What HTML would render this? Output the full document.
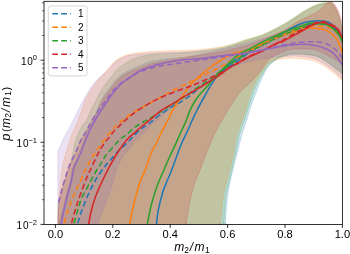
<!DOCTYPE html>
<html><head><meta charset="utf-8"><style>
html,body{margin:0;padding:0;background:#fff;width:350px;height:254px;overflow:hidden}
svg{display:block;will-change:transform}
text{font-family:'Liberation Sans',sans-serif;fill:#000}
</style></head><body>
<svg width="350" height="254" viewBox="0 0 350 254">
<defs><clipPath id="ax"><rect x="44.0" y="1.3" width="298.4" height="223.1"/></clipPath></defs>
<rect x="0" y="0" width="350" height="254" fill="#fff"/>
<g clip-path="url(#ax)">
<path d="M57.90,400.00 L57.90,228.00 C58.20,226.83 58.90,224.17 59.70,221.00 C60.50,217.83 61.65,213.17 62.70,209.00 C63.75,204.83 64.78,200.67 66.00,196.00 C67.22,191.33 68.95,185.50 70.00,181.00 C71.05,176.50 71.43,172.17 72.30,169.00 C73.17,165.83 74.08,164.67 75.20,162.00 C76.32,159.33 77.78,156.00 79.00,153.00 C80.22,150.00 81.28,147.33 82.50,144.00 C83.72,140.67 85.10,136.00 86.30,133.00 C87.50,130.00 88.62,128.25 89.70,126.00 C90.78,123.75 91.75,121.75 92.80,119.50 C93.85,117.25 94.97,114.83 96.00,112.50 C97.03,110.17 97.97,107.83 99.00,105.50 C100.03,103.17 100.62,101.17 102.20,98.50 C103.78,95.83 106.20,92.67 108.50,89.50 C110.80,86.33 113.25,82.37 116.00,79.50 C118.75,76.63 121.83,74.30 125.00,72.30 C128.17,70.30 132.00,68.80 135.00,67.50 C138.00,66.20 140.50,65.50 143.00,64.50 C145.50,63.50 146.50,62.38 150.00,61.50 C153.50,60.62 159.00,59.83 164.00,59.20 C169.00,58.57 174.83,58.33 180.00,57.70 C185.17,57.07 187.67,56.95 195.00,55.40 C202.33,53.85 215.67,50.73 224.00,48.40 C232.33,46.07 238.33,43.60 245.00,41.40 C251.67,39.20 257.50,37.93 264.00,35.20 C270.50,32.47 278.67,27.95 284.00,25.00 C289.33,22.05 293.02,19.43 296.00,17.50 C298.98,15.57 299.93,14.65 301.90,13.40 C303.87,12.15 305.83,11.07 307.80,10.00 C309.77,8.93 311.73,7.87 313.70,7.00 C315.67,6.13 317.63,5.38 319.60,4.80 C321.57,4.22 323.80,3.80 325.50,3.50 C327.20,3.20 328.75,3.05 329.80,3.00 C330.85,2.95 331.07,2.77 331.80,3.20 C332.53,3.63 333.47,4.63 334.20,5.60 C334.93,6.57 335.53,7.68 336.20,9.00 C336.87,10.32 337.60,11.92 338.20,13.50 C338.80,15.08 339.33,16.75 339.80,18.50 C340.27,20.25 340.57,22.08 341.00,24.00 C341.43,25.92 342.17,29.00 342.40,30.00 L342.40,74.00 C342.12,73.72 341.77,73.22 340.70,72.30 C339.63,71.38 337.58,69.72 336.00,68.50 C334.42,67.28 333.03,66.33 331.20,65.00 C329.37,63.67 326.97,61.80 325.00,60.50 C323.03,59.20 321.23,58.03 319.40,57.20 C317.57,56.37 315.97,55.95 314.00,55.50 C312.03,55.05 309.93,54.75 307.60,54.50 C305.27,54.25 302.93,54.05 300.00,54.00 C297.07,53.95 293.00,53.78 290.00,54.20 C287.00,54.62 284.50,55.45 282.00,56.50 C279.50,57.55 277.25,58.92 275.00,60.50 C272.75,62.08 270.33,63.75 268.50,66.00 C266.67,68.25 265.50,71.00 264.00,74.00 C262.50,77.00 260.92,80.67 259.50,84.00 C258.08,87.33 256.92,90.33 255.50,94.00 C254.08,97.67 252.45,101.67 251.00,106.00 C249.55,110.33 248.33,115.17 246.80,120.00 C245.27,124.83 243.27,130.00 241.80,135.00 C240.33,140.00 239.30,145.00 238.00,150.00 C236.70,155.00 235.25,160.00 234.00,165.00 C232.75,170.00 231.55,175.00 230.50,180.00 C229.45,185.00 228.40,190.00 227.70,195.00 C227.00,200.00 226.68,205.10 226.30,210.00 C225.92,214.90 225.58,219.40 225.40,224.40 C225.22,229.40 225.27,210.73 225.20,240.00 C225.13,269.27 225.03,373.33 225.00,400.00 L57.90,400.00 Z" fill="#1f77b4" fill-opacity="0.2" stroke="#1f77b4" stroke-opacity="0.2" stroke-width="1"/>
<path d="M57.90,400.00 L57.90,205.00 C58.25,203.50 59.23,198.83 60.00,196.00 C60.77,193.17 61.60,191.00 62.50,188.00 C63.40,185.00 64.43,181.00 65.40,178.00 C66.37,175.00 67.37,172.83 68.30,170.00 C69.23,167.17 70.17,164.17 71.00,161.00 C71.83,157.83 72.55,154.33 73.30,151.00 C74.05,147.67 74.63,144.00 75.50,141.00 C76.37,138.00 77.42,135.50 78.50,133.00 C79.58,130.50 80.60,128.25 82.00,126.00 C83.40,123.75 85.57,121.83 86.90,119.50 C88.23,117.17 88.90,114.42 90.00,112.00 C91.10,109.58 92.25,107.42 93.50,105.00 C94.75,102.58 96.17,100.00 97.50,97.50 C98.83,95.00 100.25,92.12 101.50,90.00 C102.75,87.88 103.55,86.80 105.00,84.80 C106.45,82.80 108.03,80.67 110.20,78.00 C112.37,75.33 115.53,71.22 118.00,68.80 C120.47,66.38 123.00,64.88 125.00,63.50 C127.00,62.12 127.88,61.50 130.00,60.50 C132.12,59.50 134.37,58.47 137.70,57.50 C141.03,56.53 145.62,55.33 150.00,54.70 C154.38,54.07 156.50,54.20 164.00,53.70 C171.50,53.20 185.00,52.83 195.00,51.70 C205.00,50.57 215.67,48.87 224.00,46.90 C232.33,44.93 238.33,42.05 245.00,39.90 C251.67,37.75 257.50,36.68 264.00,34.00 C270.50,31.32 278.67,26.75 284.00,23.80 C289.33,20.85 293.02,18.23 296.00,16.30 C298.98,14.37 299.93,13.47 301.90,12.20 C303.87,10.93 305.83,9.78 307.80,8.70 C309.77,7.62 311.73,6.57 313.70,5.70 C315.67,4.83 317.63,4.05 319.60,3.50 C321.57,2.95 323.73,2.55 325.50,2.40 C327.27,2.25 328.95,2.25 330.20,2.60 C331.45,2.95 332.03,3.35 333.00,4.50 C333.97,5.65 335.00,7.25 336.00,9.50 C337.00,11.75 337.93,14.58 339.00,18.00 C340.07,21.42 341.83,28.00 342.40,30.00 L342.40,74.30 C342.12,74.02 341.77,73.52 340.70,72.60 C339.63,71.68 337.58,70.02 336.00,68.80 C334.42,67.58 333.03,66.63 331.20,65.30 C329.37,63.97 326.97,62.10 325.00,60.80 C323.03,59.50 321.23,58.33 319.40,57.50 C317.57,56.67 315.97,56.25 314.00,55.80 C312.03,55.35 309.93,55.05 307.60,54.80 C305.27,54.55 302.93,54.35 300.00,54.30 C297.07,54.25 293.67,53.80 290.00,54.50 C286.33,55.20 281.33,56.92 278.00,58.50 C274.67,60.08 272.50,61.58 270.00,64.00 C267.50,66.42 265.00,70.00 263.00,73.00 C261.00,76.00 259.58,78.67 258.00,82.00 C256.42,85.33 255.00,89.00 253.50,93.00 C252.00,97.00 250.50,101.50 249.00,106.00 C247.50,110.50 246.08,115.17 244.50,120.00 C242.92,124.83 240.83,130.00 239.50,135.00 C238.17,140.00 237.58,145.00 236.50,150.00 C235.42,155.00 234.17,160.00 233.00,165.00 C231.83,170.00 230.63,175.00 229.50,180.00 C228.37,185.00 226.98,190.00 226.20,195.00 C225.42,200.00 225.18,205.10 224.80,210.00 C224.42,214.90 224.10,219.40 223.90,224.40 C223.70,229.40 223.70,210.73 223.60,240.00 C223.50,269.27 223.35,373.33 223.30,400.00 L57.90,400.00 Z" fill="#2ca02c" fill-opacity="0.2" stroke="#2ca02c" stroke-opacity="0.2" stroke-width="1"/>
<path d="M57.90,400.00 L57.90,228.00 C57.97,225.33 58.13,216.67 58.30,212.00 C58.47,207.33 58.67,203.67 58.90,200.00 C59.13,196.33 59.37,193.83 59.70,190.00 C60.03,186.17 60.43,181.00 60.90,177.00 C61.37,173.00 61.82,169.50 62.50,166.00 C63.18,162.50 64.08,159.33 65.00,156.00 C65.92,152.67 66.95,149.33 68.00,146.00 C69.05,142.67 70.12,139.17 71.30,136.00 C72.48,132.83 73.85,130.00 75.10,127.00 C76.35,124.00 77.73,120.67 78.80,118.00 C79.87,115.33 80.40,114.00 81.50,111.00 C82.60,108.00 83.88,103.42 85.40,100.00 C86.92,96.58 88.57,93.70 90.60,90.50 C92.63,87.30 95.37,83.62 97.60,80.80 C99.83,77.98 102.28,75.53 104.00,73.60 C105.72,71.67 106.73,70.58 107.90,69.20 C109.07,67.82 109.90,66.58 111.00,65.30 C112.10,64.02 113.17,62.67 114.50,61.50 C115.83,60.33 117.42,59.22 119.00,58.30 C120.58,57.38 122.17,56.68 124.00,56.00 C125.83,55.32 127.33,54.78 130.00,54.20 C132.67,53.62 136.67,52.92 140.00,52.50 C143.33,52.08 146.00,51.97 150.00,51.70 C154.00,51.43 156.50,51.20 164.00,50.90 C171.50,50.60 185.00,50.65 195.00,49.90 C205.00,49.15 215.67,47.98 224.00,46.40 C232.33,44.82 238.33,42.35 245.00,40.40 C251.67,38.45 257.50,37.33 264.00,34.70 C270.50,32.07 278.67,27.52 284.00,24.60 C289.33,21.68 293.02,19.12 296.00,17.20 C298.98,15.28 299.93,14.37 301.90,13.10 C303.87,11.83 305.83,10.68 307.80,9.60 C309.77,8.52 311.73,7.47 313.70,6.60 C315.67,5.73 317.63,4.97 319.60,4.40 C321.57,3.83 323.80,3.50 325.50,3.20 C327.20,2.90 328.75,2.63 329.80,2.60 C330.85,2.57 331.07,2.52 331.80,3.00 C332.53,3.48 333.47,4.50 334.20,5.50 C334.93,6.50 335.53,7.67 336.20,9.00 C336.87,10.33 337.60,11.92 338.20,13.50 C338.80,15.08 339.33,16.75 339.80,18.50 C340.27,20.25 340.57,22.08 341.00,24.00 C341.43,25.92 342.17,29.00 342.40,30.00 L342.40,81.50 C342.12,81.17 341.77,80.58 340.70,79.50 C339.63,78.42 337.58,76.42 336.00,75.00 C334.42,73.58 333.03,72.42 331.20,71.00 C329.37,69.58 326.97,67.78 325.00,66.50 C323.03,65.22 321.23,64.22 319.40,63.30 C317.57,62.38 315.97,61.63 314.00,61.00 C312.03,60.37 310.63,59.93 307.60,59.50 C304.57,59.07 299.57,58.55 295.80,58.40 C292.03,58.25 288.47,58.33 285.00,58.60 C281.53,58.87 277.83,59.10 275.00,60.00 C272.17,60.90 270.17,62.08 268.00,64.00 C265.83,65.92 264.00,68.67 262.00,71.50 C260.00,74.33 257.83,77.58 256.00,81.00 C254.17,84.42 252.50,88.00 251.00,92.00 C249.50,96.00 248.45,100.33 247.00,105.00 C245.55,109.67 244.00,115.00 242.30,120.00 C240.60,125.00 238.18,130.00 236.80,135.00 C235.42,140.00 234.97,145.00 234.00,150.00 C233.03,155.00 232.17,160.00 231.00,165.00 C229.83,170.00 228.28,175.00 227.00,180.00 C225.72,185.00 224.18,190.00 223.30,195.00 C222.42,200.00 222.20,205.10 221.70,210.00 C221.20,214.90 220.62,219.40 220.30,224.40 C219.98,229.40 219.97,210.73 219.80,240.00 C219.63,269.27 219.38,373.33 219.30,400.00 L57.90,400.00 Z" fill="#ff7f0e" fill-opacity="0.2" stroke="#ff7f0e" stroke-opacity="0.2" stroke-width="1"/>
<path d="M57.90,400.00 L57.90,230.00 C57.95,227.50 58.02,219.17 58.20,215.00 C58.38,210.83 58.67,207.83 59.00,205.00 C59.33,202.17 59.60,200.58 60.20,198.00 C60.80,195.42 61.55,193.27 62.60,189.50 C63.65,185.73 65.27,179.32 66.50,175.40 C67.73,171.48 68.92,168.90 70.00,166.00 C71.08,163.10 71.92,160.37 73.00,158.00 C74.08,155.63 75.13,154.80 76.50,151.80 C77.87,148.80 79.57,143.38 81.20,140.00 C82.83,136.62 84.83,134.08 86.30,131.50 C87.77,128.92 88.78,126.58 90.00,124.50 C91.22,122.42 92.52,120.83 93.60,119.00 C94.68,117.17 95.52,115.58 96.50,113.50 C97.48,111.42 98.45,108.83 99.50,106.50 C100.55,104.17 101.22,102.08 102.80,99.50 C104.38,96.92 106.75,94.00 109.00,91.00 C111.25,88.00 113.63,84.28 116.30,81.50 C118.97,78.72 121.88,76.25 125.00,74.30 C128.12,72.35 132.00,71.03 135.00,69.80 C138.00,68.57 140.50,67.87 143.00,66.90 C145.50,65.93 146.50,64.98 150.00,64.00 C153.50,63.02 159.00,61.92 164.00,61.00 C169.00,60.08 174.83,59.33 180.00,58.50 C185.17,57.67 187.67,57.25 195.00,56.00 C202.33,54.75 214.17,53.17 224.00,51.00 C233.83,48.83 244.00,46.50 254.00,43.00 C264.00,39.50 277.00,33.40 284.00,30.00 C291.00,26.60 292.82,24.42 296.00,22.60 C299.18,20.78 300.73,20.28 303.10,19.10 C305.47,17.92 308.03,16.58 310.20,15.50 C312.37,14.42 314.13,13.87 316.10,12.60 C318.07,11.33 320.35,9.33 322.00,7.90 C323.65,6.47 324.75,5.02 326.00,4.00 C327.25,2.98 328.53,2.13 329.50,1.80 C330.47,1.47 331.05,1.70 331.80,2.00 C332.55,2.30 333.22,2.80 334.00,3.60 C334.78,4.40 335.75,5.57 336.50,6.80 C337.25,8.03 337.88,9.47 338.50,11.00 C339.12,12.53 339.68,14.50 340.20,16.00 C340.72,17.50 341.23,18.83 341.60,20.00 C341.97,21.17 342.27,22.50 342.40,23.00 L342.40,64.50 C342.12,64.28 341.77,63.90 340.70,63.20 C339.63,62.50 337.58,61.28 336.00,60.30 C334.42,59.32 333.03,58.35 331.20,57.30 C329.37,56.25 326.97,55.02 325.00,54.00 C323.03,52.98 321.23,51.95 319.40,51.20 C317.57,50.45 315.97,49.88 314.00,49.50 C312.03,49.12 309.93,48.97 307.60,48.90 C305.27,48.83 302.93,48.98 300.00,49.10 C297.07,49.22 294.17,48.53 290.00,49.60 C285.83,50.67 278.58,53.77 275.00,55.50 C271.42,57.23 270.20,58.47 268.50,60.00 C266.80,61.53 266.20,62.80 264.80,64.70 C263.40,66.60 262.00,68.95 260.10,71.40 C258.20,73.85 255.63,77.00 253.40,79.40 C251.17,81.80 248.93,83.63 246.70,85.80 C244.47,87.97 241.55,90.77 240.00,92.40 C238.45,94.03 239.23,92.92 237.40,95.60 C235.57,98.28 231.65,104.27 229.00,108.50 C226.35,112.73 223.42,117.75 221.50,121.00 C219.58,124.25 218.87,125.35 217.50,128.00 C216.13,130.65 215.23,132.53 213.30,136.90 C211.37,141.27 208.20,148.45 205.90,154.20 C203.60,159.95 201.40,166.48 199.50,171.40 C197.60,176.32 195.90,179.60 194.50,183.70 C193.10,187.80 192.08,191.88 191.10,196.00 C190.12,200.12 189.42,203.67 188.60,208.40 C187.78,213.13 186.70,219.13 186.20,224.40 C185.70,229.67 186.30,210.73 185.60,240.00 C184.90,269.27 182.60,373.33 182.00,400.00 L57.90,400.00 Z" fill="#d62728" fill-opacity="0.2" stroke="#d62728" stroke-opacity="0.2" stroke-width="1"/>
<path d="M57.90,400.00 L57.90,151.30 C58.50,150.00 60.33,146.05 61.50,143.50 C62.67,140.95 63.57,138.58 64.90,136.00 C66.23,133.42 68.08,130.67 69.50,128.00 C70.92,125.33 71.93,123.00 73.40,120.00 C74.87,117.00 76.62,113.33 78.30,110.00 C79.98,106.67 81.70,103.30 83.50,100.00 C85.30,96.70 87.53,92.75 89.10,90.20 C90.67,87.65 91.62,86.40 92.90,84.70 C94.18,83.00 95.52,81.37 96.80,80.00 C98.08,78.63 99.38,77.53 100.60,76.50 C101.82,75.47 102.85,74.88 104.10,73.80 C105.35,72.72 106.87,71.30 108.10,70.00 C109.33,68.70 110.18,67.42 111.50,66.00 C112.82,64.58 114.33,62.78 116.00,61.50 C117.67,60.22 119.17,59.35 121.50,58.30 C123.83,57.25 125.25,56.05 130.00,55.20 C134.75,54.35 144.33,53.65 150.00,53.20 C155.67,52.75 156.50,52.80 164.00,52.50 C171.50,52.20 185.00,52.08 195.00,51.40 C205.00,50.72 214.17,50.15 224.00,48.40 C233.83,46.65 244.00,43.63 254.00,40.90 C264.00,38.17 276.33,34.48 284.00,32.00 C291.67,29.52 294.33,27.67 300.00,26.00 C305.67,24.33 313.00,22.67 318.00,22.00 C323.00,21.33 326.67,21.17 330.00,22.00 C333.33,22.83 335.93,25.33 338.00,27.00 C340.07,28.67 341.67,31.17 342.40,32.00 L342.40,79.20 C342.12,78.87 341.77,78.28 340.70,77.20 C339.63,76.12 337.58,74.12 336.00,72.70 C334.42,71.28 333.03,70.12 331.20,68.70 C329.37,67.28 326.97,65.48 325.00,64.20 C323.03,62.92 321.23,61.92 319.40,61.00 C317.57,60.08 315.97,59.33 314.00,58.70 C312.03,58.07 310.63,57.63 307.60,57.20 C304.57,56.77 298.73,56.25 295.80,56.10 C292.87,55.95 293.47,56.15 290.00,56.30 C286.53,56.45 279.67,56.55 275.00,57.00 C270.33,57.45 266.88,58.10 262.00,59.00 C257.12,59.90 251.03,60.82 245.70,62.40 C240.37,63.98 235.12,65.82 230.00,68.50 C224.88,71.18 220.00,75.67 215.00,78.50 C210.00,81.33 204.17,83.17 200.00,85.50 C195.83,87.83 193.33,90.08 190.00,92.50 C186.67,94.92 183.33,97.33 180.00,100.00 C176.67,102.67 173.33,105.58 170.00,108.50 C166.67,111.42 163.17,114.67 160.00,117.50 C156.83,120.33 153.33,123.33 151.00,125.50 C148.67,127.67 147.83,128.67 146.00,130.50 C144.17,132.33 141.90,134.65 140.00,136.50 C138.10,138.35 136.28,139.70 134.60,141.60 C132.92,143.50 131.73,145.55 129.90,147.90 C128.07,150.25 125.33,153.27 123.60,155.70 C121.87,158.13 120.60,160.45 119.50,162.50 C118.40,164.55 117.70,166.08 117.00,168.00 C116.30,169.92 115.88,171.83 115.30,174.00 C114.72,176.17 114.22,178.67 113.50,181.00 C112.78,183.33 112.00,185.33 111.00,188.00 C110.00,190.67 108.72,193.67 107.50,197.00 C106.28,200.33 104.78,205.00 103.70,208.00 C102.62,211.00 101.98,212.17 101.00,215.00 C100.02,217.83 98.88,220.83 97.80,225.00 C96.72,229.17 95.47,210.83 94.50,240.00 C93.53,269.17 92.42,373.33 92.00,400.00 L57.90,400.00 Z" fill="#9467bd" fill-opacity="0.2" stroke="#9467bd" stroke-opacity="0.2" stroke-width="1"/>
<path d="M155.80,232.00 C155.90,230.73 155.97,228.13 156.40,224.40 C156.83,220.67 157.33,215.00 158.40,209.60 C159.47,204.20 161.28,196.93 162.80,192.00 C164.32,187.07 166.02,183.67 167.50,180.00 C168.98,176.33 169.53,175.67 171.70,170.00 C173.87,164.33 177.95,152.33 180.50,146.00 C183.05,139.67 185.03,136.33 187.00,132.00 C188.97,127.67 190.62,123.67 192.30,120.00 C193.98,116.33 195.03,114.00 197.10,110.00 C199.17,106.00 202.25,100.38 204.70,96.00 C207.15,91.62 209.63,87.13 211.80,83.70 C213.97,80.27 215.53,77.95 217.70,75.40 C219.87,72.85 221.55,71.25 224.80,68.40 C228.05,65.55 233.00,61.20 237.20,58.30 C241.40,55.40 245.75,53.35 250.00,51.00 C254.25,48.65 258.53,46.43 262.70,44.20 C266.87,41.97 270.22,40.27 275.00,37.60 C279.78,34.93 286.88,30.60 291.40,28.20 C295.92,25.80 298.67,24.35 302.10,23.20 C305.53,22.05 309.35,21.72 312.00,21.30 C314.65,20.88 315.83,20.72 318.00,20.70 C320.17,20.68 323.00,20.78 325.00,21.20 C327.00,21.62 328.38,22.12 330.00,23.20 C331.62,24.28 333.28,26.32 334.70,27.70 C336.12,29.08 337.35,30.05 338.50,31.50 C339.65,32.95 340.85,35.15 341.60,36.40 C342.35,37.65 342.77,38.57 343.00,39.00" fill="none" stroke="#1f77b4" stroke-width="1.55"/>
<path d="M76.50,232.00 C76.67,230.73 76.58,228.07 77.50,224.40 C78.42,220.73 80.18,215.02 82.00,210.00 C83.82,204.98 86.15,199.27 88.40,194.30 C90.65,189.33 92.85,184.72 95.50,180.20 C98.15,175.68 101.88,170.48 104.30,167.20 C106.72,163.92 107.72,163.12 110.00,160.50 C112.28,157.88 115.07,154.50 118.00,151.50 C120.93,148.50 124.77,145.32 127.60,142.50 C130.43,139.68 132.50,137.02 135.00,134.60 C137.50,132.18 139.98,130.05 142.60,128.00 C145.22,125.95 147.80,124.53 150.70,122.30 C153.60,120.07 156.48,117.17 160.00,114.60 C163.52,112.03 168.25,109.07 171.80,106.90 C175.35,104.73 178.27,103.47 181.30,101.60 C184.33,99.73 186.88,98.02 190.00,95.70 C193.12,93.38 196.33,90.40 200.00,87.70 C203.67,85.00 208.00,82.37 212.00,79.50 C216.00,76.63 219.83,73.50 224.00,70.50 C228.17,67.50 232.67,64.62 237.00,61.50 C241.33,58.38 245.83,54.45 250.00,51.80 C254.17,49.15 257.83,47.75 262.00,45.60 C266.17,43.45 270.33,41.10 275.00,38.90 C279.67,36.70 285.17,34.45 290.00,32.40 C294.83,30.35 299.33,28.17 304.00,26.60 C308.67,25.03 314.00,23.43 318.00,23.00 C322.00,22.57 325.17,23.08 328.00,24.00 C330.83,24.92 333.00,26.92 335.00,28.50 C337.00,30.08 338.67,31.92 340.00,33.50 C341.33,35.08 342.50,37.25 343.00,38.00" fill="none" stroke="#1f77b4" stroke-width="1.55" stroke-dasharray="5.7 3.2"/>
<path d="M128.80,232.00 C128.95,230.73 129.23,227.40 129.70,224.40 C130.17,221.40 130.87,217.57 131.60,214.00 C132.33,210.43 132.77,208.13 134.10,203.00 C135.43,197.87 137.75,188.70 139.60,183.20 C141.45,177.70 143.27,175.03 145.20,170.00 C147.13,164.97 149.48,157.17 151.20,153.00 C152.92,148.83 154.12,147.75 155.50,145.00 C156.88,142.25 158.20,139.23 159.50,136.50 C160.80,133.77 161.88,131.35 163.30,128.60 C164.72,125.85 166.68,122.62 168.00,120.00 C169.32,117.38 169.58,115.87 171.20,112.90 C172.82,109.93 175.15,106.00 177.70,102.20 C180.25,98.40 184.05,93.30 186.50,90.10 C188.95,86.90 190.48,85.10 192.40,83.00 C194.32,80.90 196.00,79.32 198.00,77.50 C200.00,75.68 201.95,74.08 204.40,72.10 C206.85,70.12 210.33,67.37 212.70,65.60 C215.07,63.83 216.55,62.83 218.60,61.50 C220.65,60.17 222.60,58.93 225.00,57.60 C227.40,56.27 228.83,54.85 233.00,53.50 C237.17,52.15 243.83,51.67 250.00,49.50 C256.17,47.33 263.33,43.25 270.00,40.50 C276.67,37.75 285.00,34.67 290.00,33.00 C295.00,31.33 296.80,31.38 300.00,30.50 C303.20,29.62 306.20,27.98 309.20,27.70 C312.20,27.42 315.17,28.35 318.00,28.80 C320.83,29.25 323.82,29.45 326.20,30.40 C328.58,31.35 330.60,33.13 332.30,34.50 C334.00,35.87 335.22,37.02 336.40,38.60 C337.58,40.18 338.60,42.18 339.40,44.00 C340.20,45.82 340.67,48.00 341.20,49.50 C341.73,51.00 342.37,52.42 342.60,53.00" fill="none" stroke="#ff7f0e" stroke-width="1.55"/>
<path d="M63.20,232.00 C63.32,230.73 63.10,228.07 63.90,224.40 C64.70,220.73 66.40,214.73 68.00,210.00 C69.60,205.27 71.37,200.97 73.50,196.00 C75.63,191.03 78.62,185.00 80.80,180.20 C82.98,175.40 84.25,171.73 86.60,167.20 C88.95,162.67 92.55,156.70 94.90,153.00 C97.25,149.30 98.55,147.98 100.70,145.00 C102.85,142.02 105.63,137.93 107.80,135.10 C109.97,132.27 111.73,130.07 113.70,128.00 C115.67,125.93 117.55,124.43 119.60,122.70 C121.65,120.97 123.38,119.47 126.00,117.60 C128.62,115.73 132.37,113.33 135.30,111.50 C138.23,109.67 140.80,108.22 143.60,106.60 C146.40,104.98 149.50,103.22 152.10,101.80 C154.70,100.38 156.22,99.73 159.20,98.10 C162.18,96.47 166.23,94.03 170.00,92.00 C173.77,89.97 178.25,87.60 181.80,85.90 C185.35,84.20 188.10,83.32 191.30,81.80 C194.50,80.28 197.63,78.52 201.00,76.80 C204.37,75.08 208.57,73.00 211.50,71.50 C214.43,70.00 216.35,68.98 218.60,67.80 C220.85,66.62 221.93,66.12 225.00,64.40 C228.07,62.68 232.68,59.83 237.00,57.50 C241.32,55.17 246.73,52.52 250.90,50.40 C255.07,48.28 258.23,46.70 262.00,44.80 C265.77,42.90 269.80,40.75 273.50,39.00 C277.20,37.25 280.62,35.78 284.20,34.30 C287.78,32.82 291.23,31.52 295.00,30.10 C298.77,28.68 302.97,26.43 306.80,25.80 C310.63,25.17 314.77,26.05 318.00,26.30 C321.23,26.55 323.82,26.75 326.20,27.30 C328.58,27.85 330.50,28.57 332.30,29.60 C334.10,30.63 335.63,32.10 337.00,33.50 C338.37,34.90 339.50,36.42 340.50,38.00 C341.50,39.58 342.58,42.17 343.00,43.00" fill="none" stroke="#ff7f0e" stroke-width="1.55" stroke-dasharray="5.7 3.2"/>
<path d="M146.80,232.00 C146.90,230.73 146.95,227.57 147.40,224.40 C147.85,221.23 148.77,216.57 149.50,213.00 C150.23,209.43 150.50,207.60 151.80,203.00 C153.10,198.40 155.28,190.90 157.30,185.40 C159.32,179.90 161.87,174.73 163.90,170.00 C165.93,165.27 167.52,161.40 169.50,157.00 C171.48,152.60 173.88,147.77 175.80,143.60 C177.72,139.43 179.23,135.93 181.00,132.00 C182.77,128.07 184.90,123.60 186.40,120.00 C187.90,116.40 188.57,113.57 190.00,110.40 C191.43,107.23 193.33,103.68 195.00,101.00 C196.67,98.32 197.60,97.18 200.00,94.30 C202.40,91.42 206.85,86.65 209.40,83.70 C211.95,80.75 212.93,79.15 215.30,76.60 C217.67,74.05 220.45,71.52 223.60,68.40 C226.75,65.28 231.13,60.55 234.20,57.90 C237.27,55.25 239.37,54.02 242.00,52.50 C244.63,50.98 247.13,50.28 250.00,48.80 C252.87,47.32 256.25,45.15 259.20,43.60 C262.15,42.05 265.07,40.73 267.70,39.50 C270.33,38.27 272.07,37.53 275.00,36.20 C277.93,34.87 281.77,32.90 285.30,31.50 C288.83,30.10 292.62,29.02 296.20,27.80 C299.78,26.58 304.17,24.98 306.80,24.20 C309.43,23.42 310.13,23.18 312.00,23.10 C313.87,23.02 315.30,23.33 318.00,23.70 C320.70,24.07 325.47,24.27 328.20,25.30 C330.93,26.33 332.68,28.37 334.40,29.90 C336.12,31.43 337.32,32.82 338.50,34.50 C339.68,36.18 340.75,38.58 341.50,40.00 C342.25,41.42 342.75,42.50 343.00,43.00" fill="none" stroke="#2ca02c" stroke-width="1.55"/>
<path d="M73.00,232.00 C73.15,230.73 73.07,228.23 73.90,224.40 C74.73,220.57 76.62,213.57 78.00,209.00 C79.38,204.43 80.37,201.12 82.20,197.00 C84.03,192.88 86.88,188.28 89.00,184.30 C91.12,180.32 92.93,176.55 94.90,173.10 C96.87,169.65 98.95,166.57 100.80,163.60 C102.65,160.63 103.65,158.40 106.00,155.30 C108.35,152.20 112.43,147.78 114.90,145.00 C117.37,142.22 118.95,140.25 120.80,138.60 C122.65,136.95 123.63,137.00 126.00,135.10 C128.37,133.20 132.27,129.30 135.00,127.20 C137.73,125.10 139.90,124.00 142.40,122.50 C144.90,121.00 147.40,119.72 150.00,118.20 C152.60,116.68 155.25,115.08 158.00,113.40 C160.75,111.72 163.50,110.00 166.50,108.10 C169.50,106.20 172.75,104.10 176.00,102.00 C179.25,99.90 182.47,97.88 186.00,95.50 C189.53,93.12 193.20,90.45 197.20,87.70 C201.20,84.95 205.70,82.03 210.00,79.00 C214.30,75.97 218.67,72.58 223.00,69.50 C227.33,66.42 231.50,63.50 236.00,60.50 C240.50,57.50 245.67,54.03 250.00,51.50 C254.33,48.97 257.83,47.45 262.00,45.30 C266.17,43.15 270.33,40.78 275.00,38.60 C279.67,36.42 285.17,34.13 290.00,32.20 C294.83,30.27 299.33,28.40 304.00,27.00 C308.67,25.60 314.00,24.13 318.00,23.80 C322.00,23.47 325.17,24.05 328.00,25.00 C330.83,25.95 333.00,27.83 335.00,29.50 C337.00,31.17 338.67,33.25 340.00,35.00 C341.33,36.75 342.50,39.17 343.00,40.00" fill="none" stroke="#2ca02c" stroke-width="1.55" stroke-dasharray="5.7 3.2"/>
<path d="M87.50,232.00 C87.68,230.73 88.02,227.73 88.60,224.40 C89.18,221.07 90.02,216.15 91.00,212.00 C91.98,207.85 93.00,203.83 94.50,199.50 C96.00,195.17 97.80,190.92 100.00,186.00 C102.20,181.08 105.12,175.00 107.70,170.00 C110.28,165.00 113.28,159.75 115.50,156.00 C117.72,152.25 118.98,150.33 121.00,147.50 C123.02,144.67 125.27,141.53 127.60,139.00 C129.93,136.47 132.45,134.55 135.00,132.30 C137.55,130.05 140.28,127.68 142.90,125.50 C145.52,123.32 147.85,121.57 150.70,119.20 C153.55,116.83 156.88,113.55 160.00,111.30 C163.12,109.05 166.25,107.62 169.40,105.70 C172.55,103.78 175.47,101.87 178.90,99.80 C182.33,97.73 186.48,95.37 190.00,93.30 C193.52,91.23 196.37,89.62 200.00,87.40 C203.63,85.18 208.25,82.27 211.80,80.00 C215.35,77.73 218.27,75.93 221.30,73.80 C224.33,71.67 227.27,68.97 230.00,67.20 C232.73,65.43 234.37,64.98 237.70,63.20 C241.03,61.42 245.87,58.53 250.00,56.50 C254.13,54.47 259.55,52.42 262.50,51.00 C265.45,49.58 264.87,49.50 267.70,48.00 C270.53,46.50 277.12,43.02 279.50,42.00 C281.88,40.98 279.62,43.00 282.00,41.90 C284.38,40.80 290.25,37.35 293.80,35.40 C297.35,33.45 300.27,31.90 303.30,30.20 C306.33,28.50 309.55,26.42 312.00,25.20 C314.45,23.98 315.98,23.32 318.00,22.90 C320.02,22.48 322.05,22.33 324.10,22.70 C326.15,23.07 328.25,24.18 330.30,25.10 C332.35,26.02 334.70,26.67 336.40,28.20 C338.10,29.73 339.40,32.58 340.50,34.30 C341.60,36.02 342.58,37.80 343.00,38.50" fill="none" stroke="#d62728" stroke-width="1.55"/>
<path d="M70.90,232.00 C71.02,230.53 70.83,227.03 71.60,223.20 C72.37,219.37 74.13,213.53 75.50,209.00 C76.87,204.47 77.93,201.20 79.80,196.00 C81.67,190.80 84.87,182.30 86.70,177.80 C88.53,173.30 88.95,172.93 90.80,169.00 C92.65,165.07 95.75,158.20 97.80,154.20 C99.85,150.20 101.23,147.80 103.10,145.00 C104.97,142.20 107.03,139.85 109.00,137.40 C110.97,134.95 112.93,132.47 114.90,130.30 C116.87,128.13 118.95,126.17 120.80,124.40 C122.65,122.63 123.58,121.77 126.00,119.70 C128.42,117.63 132.37,114.15 135.30,112.00 C138.23,109.85 140.80,108.50 143.60,106.80 C146.40,105.10 149.50,103.22 152.10,101.80 C154.70,100.38 156.65,99.50 159.20,98.30 C161.75,97.10 164.03,95.97 167.40,94.60 C170.77,93.23 175.82,91.40 179.40,90.10 C182.98,88.80 186.13,87.82 188.90,86.80 C191.67,85.78 193.42,85.08 196.00,84.00 C198.58,82.92 201.42,81.58 204.40,80.30 C207.38,79.02 210.47,77.93 213.90,76.30 C217.33,74.67 221.15,72.67 225.00,70.50 C228.85,68.33 232.83,65.72 237.00,63.30 C241.17,60.88 245.75,58.13 250.00,56.00 C254.25,53.87 258.33,52.42 262.50,50.50 C266.67,48.58 271.75,46.12 275.00,44.50 C278.25,42.88 278.87,42.60 282.00,40.80 C285.13,39.00 290.25,35.67 293.80,33.70 C297.35,31.73 300.27,30.57 303.30,29.00 C306.33,27.43 309.55,25.47 312.00,24.30 C314.45,23.13 315.98,22.43 318.00,22.00 C320.02,21.57 322.05,21.33 324.10,21.70 C326.15,22.07 328.25,23.27 330.30,24.20 C332.35,25.13 334.70,25.77 336.40,27.30 C338.10,28.83 339.40,31.53 340.50,33.40 C341.60,35.27 342.58,37.65 343.00,38.50" fill="none" stroke="#d62728" stroke-width="1.55" stroke-dasharray="5.7 3.2"/>
<path d="M60.50,232.00 C60.58,230.73 60.42,228.07 61.00,224.40 C61.58,220.73 62.95,214.73 64.00,210.00 C65.05,205.27 66.08,200.78 67.30,196.00 C68.52,191.22 70.22,185.97 71.30,181.30 C72.38,176.63 72.93,171.22 73.80,168.00 C74.67,164.78 75.35,164.50 76.50,162.00 C77.65,159.50 79.37,156.17 80.70,153.00 C82.03,149.83 83.12,146.50 84.50,143.00 C85.88,139.50 87.67,135.00 89.00,132.00 C90.33,129.00 91.33,127.25 92.50,125.00 C93.67,122.75 94.83,120.50 96.00,118.50 C97.17,116.50 98.33,114.83 99.50,113.00 C100.67,111.17 101.83,109.25 103.00,107.50 C104.17,105.75 105.33,104.17 106.50,102.50 C107.67,100.83 108.83,99.17 110.00,97.50 C111.17,95.83 112.22,94.17 113.50,92.50 C114.78,90.83 116.02,89.25 117.70,87.50 C119.38,85.75 121.43,83.75 123.60,82.00 C125.77,80.25 127.97,78.87 130.70,77.00 C133.43,75.13 136.48,72.60 140.00,70.80 C143.52,69.00 147.87,67.50 151.80,66.20 C155.73,64.90 158.90,63.98 163.60,63.00 C168.30,62.02 173.93,61.05 180.00,60.30 C186.07,59.55 193.33,59.22 200.00,58.50 C206.67,57.78 211.67,57.00 220.00,56.00 C228.33,55.00 241.67,53.73 250.00,52.50 C258.33,51.27 263.33,49.85 270.00,48.60 C276.67,47.35 284.17,45.72 290.00,45.00 C295.83,44.28 301.00,44.25 305.00,44.30 C309.00,44.35 310.93,44.73 314.00,45.30 C317.07,45.87 320.45,46.62 323.40,47.70 C326.35,48.78 329.33,50.08 331.70,51.80 C334.07,53.52 336.05,56.13 337.60,58.00 C339.15,59.87 340.10,61.67 341.00,63.00 C341.90,64.33 342.67,65.50 343.00,66.00" fill="none" stroke="#9467bd" stroke-width="1.55"/>
<path d="M58.60,202.60 C59.17,200.33 60.77,193.53 62.00,189.00 C63.23,184.47 64.80,179.23 66.00,175.40 C67.20,171.57 67.53,169.93 69.20,166.00 C70.87,162.07 74.08,156.05 76.00,151.80 C77.92,147.55 79.05,143.80 80.70,140.50 C82.35,137.20 84.38,134.67 85.90,132.00 C87.42,129.33 88.48,126.95 89.80,124.50 C91.12,122.05 92.48,119.47 93.80,117.30 C95.12,115.13 96.38,113.35 97.70,111.50 C99.02,109.65 100.48,107.92 101.70,106.20 C102.92,104.48 103.87,102.82 105.00,101.20 C106.13,99.58 107.17,98.28 108.50,96.50 C109.83,94.72 111.47,92.25 113.00,90.50 C114.53,88.75 115.93,87.53 117.70,86.00 C119.47,84.47 121.43,82.80 123.60,81.30 C125.77,79.80 127.97,78.58 130.70,77.00 C133.43,75.42 136.48,73.32 140.00,71.80 C143.52,70.28 147.87,68.98 151.80,67.90 C155.73,66.82 160.25,65.92 163.60,65.30 C166.95,64.68 169.17,64.58 171.90,64.20 C174.63,63.82 175.32,63.70 180.00,63.00 C184.68,62.30 192.50,61.08 200.00,60.00 C207.50,58.92 216.67,57.80 225.00,56.50 C233.33,55.20 242.50,53.62 250.00,52.20 C257.50,50.78 264.33,49.25 270.00,48.00 C275.67,46.75 279.00,45.65 284.00,44.70 C289.00,43.75 295.00,42.78 300.00,42.30 C305.00,41.82 309.70,41.58 314.00,41.80 C318.30,42.02 322.45,42.52 325.80,43.60 C329.15,44.68 331.83,46.63 334.10,48.30 C336.37,49.97 338.03,51.98 339.40,53.60 C340.77,55.22 341.70,57.02 342.30,58.00 C342.90,58.98 342.88,59.25 343.00,59.50" fill="none" stroke="#9467bd" stroke-width="1.55" stroke-dasharray="5.7 3.2"/>
</g>
<rect x="48.3" y="6" width="38.7" height="69.9" rx="2.5" ry="2.5" fill="#fff" fill-opacity="0.8" stroke="#cccccc" stroke-width="0.8"/>
<line x1="52.3" y1="13.75" x2="70.9" y2="13.75" stroke="#1f77b4" stroke-width="1.55" stroke-dasharray="5.7 3.2"/>
<text x="78" y="17.0" style="font-size:10px">1</text>
<line x1="52.3" y1="27.25" x2="70.9" y2="27.25" stroke="#ff7f0e" stroke-width="1.55" stroke-dasharray="5.7 3.2"/>
<text x="78" y="30.5" style="font-size:10px">2</text>
<line x1="52.3" y1="40.75" x2="70.9" y2="40.75" stroke="#2ca02c" stroke-width="1.55" stroke-dasharray="5.7 3.2"/>
<text x="78" y="44.0" style="font-size:10px">3</text>
<line x1="52.3" y1="54.25" x2="70.9" y2="54.25" stroke="#d62728" stroke-width="1.55" stroke-dasharray="5.7 3.2"/>
<text x="78" y="57.5" style="font-size:10px">4</text>
<line x1="52.3" y1="67.75" x2="70.9" y2="67.75" stroke="#9467bd" stroke-width="1.55" stroke-dasharray="5.7 3.2"/>
<text x="78" y="71.0" style="font-size:10px">5</text>
<rect x="44.0" y="1.3" width="298.40" height="223.10" fill="none" stroke="#000" stroke-width="0.8"/>
<line x1="55.40" y1="224.4" x2="55.40" y2="227.9" stroke="#000" stroke-width="0.8"/>
<line x1="112.80" y1="224.4" x2="112.80" y2="227.9" stroke="#000" stroke-width="0.8"/>
<line x1="170.20" y1="224.4" x2="170.20" y2="227.9" stroke="#000" stroke-width="0.8"/>
<line x1="227.60" y1="224.4" x2="227.60" y2="227.9" stroke="#000" stroke-width="0.8"/>
<line x1="285.00" y1="224.4" x2="285.00" y2="227.9" stroke="#000" stroke-width="0.8"/>
<line x1="342.40" y1="224.4" x2="342.40" y2="227.9" stroke="#000" stroke-width="0.8"/>
<line x1="40.5" y1="60.20" x2="44.0" y2="60.20" stroke="#000" stroke-width="0.8"/>
<line x1="40.5" y1="142.30" x2="44.0" y2="142.30" stroke="#000" stroke-width="0.8"/>
<line x1="40.5" y1="224.40" x2="44.0" y2="224.40" stroke="#000" stroke-width="0.8"/>
<line x1="42.0" y1="199.69" x2="44.0" y2="199.69" stroke="#000" stroke-width="0.6"/>
<line x1="42.0" y1="185.23" x2="44.0" y2="185.23" stroke="#000" stroke-width="0.6"/>
<line x1="42.0" y1="174.97" x2="44.0" y2="174.97" stroke="#000" stroke-width="0.6"/>
<line x1="42.0" y1="167.01" x2="44.0" y2="167.01" stroke="#000" stroke-width="0.6"/>
<line x1="42.0" y1="160.51" x2="44.0" y2="160.51" stroke="#000" stroke-width="0.6"/>
<line x1="42.0" y1="155.02" x2="44.0" y2="155.02" stroke="#000" stroke-width="0.6"/>
<line x1="42.0" y1="150.26" x2="44.0" y2="150.26" stroke="#000" stroke-width="0.6"/>
<line x1="42.0" y1="146.06" x2="44.0" y2="146.06" stroke="#000" stroke-width="0.6"/>
<line x1="42.0" y1="117.59" x2="44.0" y2="117.59" stroke="#000" stroke-width="0.6"/>
<line x1="42.0" y1="103.13" x2="44.0" y2="103.13" stroke="#000" stroke-width="0.6"/>
<line x1="42.0" y1="92.87" x2="44.0" y2="92.87" stroke="#000" stroke-width="0.6"/>
<line x1="42.0" y1="84.91" x2="44.0" y2="84.91" stroke="#000" stroke-width="0.6"/>
<line x1="42.0" y1="78.41" x2="44.0" y2="78.41" stroke="#000" stroke-width="0.6"/>
<line x1="42.0" y1="72.92" x2="44.0" y2="72.92" stroke="#000" stroke-width="0.6"/>
<line x1="42.0" y1="68.16" x2="44.0" y2="68.16" stroke="#000" stroke-width="0.6"/>
<line x1="42.0" y1="63.96" x2="44.0" y2="63.96" stroke="#000" stroke-width="0.6"/>
<line x1="42.0" y1="35.49" x2="44.0" y2="35.49" stroke="#000" stroke-width="0.6"/>
<line x1="42.0" y1="21.03" x2="44.0" y2="21.03" stroke="#000" stroke-width="0.6"/>
<line x1="42.0" y1="10.77" x2="44.0" y2="10.77" stroke="#000" stroke-width="0.6"/>
<line x1="42.0" y1="2.81" x2="44.0" y2="2.81" stroke="#000" stroke-width="0.6"/>
<text x="55.40" y="238.0" text-anchor="middle" style="font-size:10px" textLength="15.5" lengthAdjust="spacingAndGlyphs">0.0</text>
<text x="112.80" y="238.0" text-anchor="middle" style="font-size:10px" textLength="15.5" lengthAdjust="spacingAndGlyphs">0.2</text>
<text x="170.20" y="238.0" text-anchor="middle" style="font-size:10px" textLength="15.5" lengthAdjust="spacingAndGlyphs">0.4</text>
<text x="227.60" y="238.0" text-anchor="middle" style="font-size:10px" textLength="15.5" lengthAdjust="spacingAndGlyphs">0.6</text>
<text x="285.00" y="238.0" text-anchor="middle" style="font-size:10px" textLength="15.5" lengthAdjust="spacingAndGlyphs">0.8</text>
<text x="342.40" y="238.0" text-anchor="middle" style="font-size:10px" textLength="15.5" lengthAdjust="spacingAndGlyphs">1.0</text>
<text x="37" y="64.70" text-anchor="end" style="font-size:10px"><tspan style="letter-spacing:0.8px">1</tspan>0<tspan dy="-4.3" style="font-size:7.5px">0</tspan></text>
<text x="37" y="146.80" text-anchor="end" style="font-size:10px"><tspan style="letter-spacing:0.8px">1</tspan>0<tspan dy="-4.3" style="font-size:7.5px">−1</tspan></text>
<text x="37" y="228.90" text-anchor="end" style="font-size:10px"><tspan style="letter-spacing:0.8px">1</tspan>0<tspan dy="-4.3" style="font-size:7.5px">−2</tspan></text>
<text x="174.3" y="251.2" style="font-size:12px;font-style:italic">m</text>
<text x="184.2" y="253.0" style="font-size:8.4px;font-style:normal">2</text>
<text x="189.8" y="251.2" style="font-size:12px;font-style:italic">/</text>
<text x="194.6" y="251.2" style="font-size:12px;font-style:italic">m</text>
<text x="205.0" y="253.0" style="font-size:8.4px;font-style:normal">1</text>
<g transform="translate(9.5,140.3) rotate(-90)">
<text x="-0.4" y="0" style="font-size:13px;font-style:italic">p</text>
<text x="8.3" y="0" style="font-size:11px;font-style:normal">(</text>
<text x="12.3" y="0" style="font-size:12px;font-style:italic">m</text>
<text x="22.6" y="1.8" style="font-size:8.4px;font-style:normal">2</text>
<text x="28.4" y="0" style="font-size:12px;font-style:italic">/</text>
<text x="33.4" y="0" style="font-size:12px;font-style:italic">m</text>
<text x="44.6" y="1.8" style="font-size:8.4px;font-style:normal">1</text>
<text x="49.8" y="0" style="font-size:11px;font-style:normal">)</text>
</g>
</svg>
</body></html>
